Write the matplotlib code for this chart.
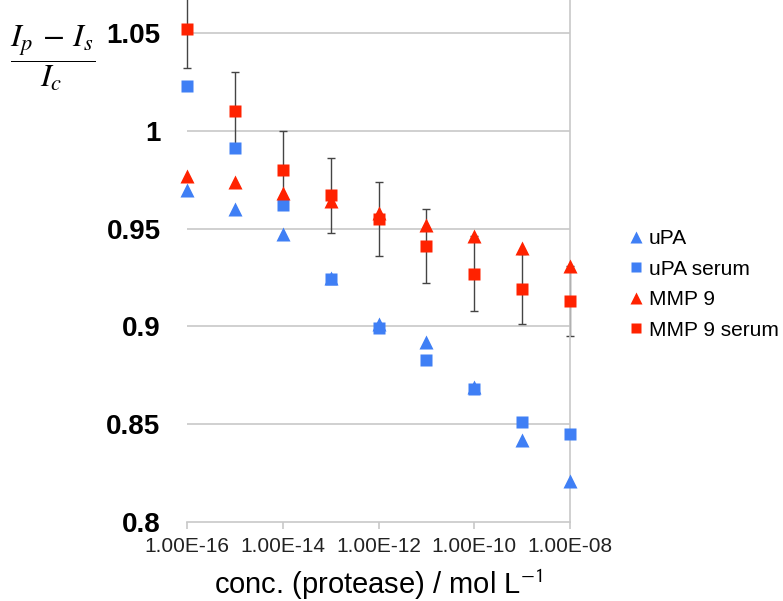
import numpy as np
import matplotlib.pyplot as plt

# concentrations (mol/L), one point per half decade
conc = [1e-16, 1e-15, 1e-14, 1e-13, 1e-12, 1e-11, 1e-10, 1e-9, 1e-8]

upa = [0.970, 0.960, 0.947, 0.925, 0.901, 0.892, 0.869, 0.842, 0.821]
upa_serum = [1.023, 0.991, 0.962, 0.924, 0.899, 0.883, 0.868, 0.851, 0.845]
mmp9 = [0.977, 0.974, 0.968, 0.964, 0.958, 0.952, 0.946, 0.940, 0.931]
mmp9_serum = [1.052, 1.010, 0.980, 0.967, 0.955, 0.941, 0.927, 0.919, 0.913]
mmp9_serum_err = [0.020, 0.020, 0.020, 0.019, 0.019, 0.019, 0.019, 0.018, 0.018]

xticks = [1e-16, 1e-14, 1e-12, 1e-10, 1e-8]
xticklabels = ['1.00E-16', '1.00E-14', '1.00E-12', '1.00E-10', '1.00E-08']
yticks = [0.8, 0.85, 0.9, 0.95, 1.0, 1.05]
yticklabels = ['0.8', '0.85', '0.9', '0.95', '1', '1.05']

blue = '#3F7FF5'
red = '#FF2200'
grid_col = '#C8C8C8'

plt.rcParams['font.family'] = ['Liberation Sans', 'DejaVu Sans']
plt.rcParams['mathtext.fontset'] = 'stix'

fig = plt.figure(figsize=(7.83, 6.01), dpi=100)
ax = fig.add_axes([187/783, 1 - 522/601, (570 - 187)/783, 522/601])

ax.set_xscale('log')
ax.set_xlim(1e-16, 1e-8)
ax.set_ylim(0.8, 1.0669)

for y in yticks[1:]:
    ax.axhline(y, color=grid_col, lw=1.2, zorder=0)

ax.errorbar(conc, mmp9_serum, yerr=mmp9_serum_err, fmt='none', ecolor='#444444',
            elinewidth=1.0, capsize=3, capthick=1.0, zorder=2, clip_on=False)
ax.plot(conc, upa, '^', color=blue, ms=9.5, mec='none', label='uPA', zorder=3, clip_on=False)
ax.plot(conc, upa_serum, 's', color=blue, ms=8.5, mec='none', label='uPA serum', zorder=3, clip_on=False)
ax.plot(conc, mmp9, '^', color=red, ms=9.5, mec='none', label='MMP 9', zorder=3, clip_on=False)
ax.plot(conc, mmp9_serum, 's', color=red, ms=8.5, mec='none', label='MMP 9 serum', zorder=3, clip_on=False)

ax.set_xticks(xticks)
ax.set_xticklabels(xticklabels, fontsize=15, color='#222222')
ax.xaxis.set_minor_locator(plt.NullLocator())
ax.set_yticks(yticks)
ax.set_yticklabels(yticklabels, fontsize=20, fontweight='bold')
ax.tick_params(axis='y', length=0, pad=19)
ax.tick_params(axis='x', length=5, color=grid_col, width=1.2, pad=6)

for side in ['top', 'left']:
    ax.spines[side].set_visible(False)
ax.spines['bottom'].set_color(grid_col)
ax.spines['bottom'].set_linewidth(1.2)
ax.spines['right'].set_color(grid_col)
ax.spines['right'].set_linewidth(1.2)

ax.set_xlabel('conc. (protease) / mol L$^{\\mathsf{-1}}$', fontsize=21, labelpad=8)

fig.text(53/783, 1 - 58/601, r'$\dfrac{I_p\,-\,I_s}{I_c}$', fontsize=23,
         ha='center', va='center')

ax.legend(loc='center left', bbox_to_anchor=(1.118, 0.455), frameon=False,
          fontsize=15, handletextpad=0.0, labelspacing=0.55, borderaxespad=0,
          handlelength=1.2, markerscale=0.9)

fig.savefig('out.png', dpi=100)
